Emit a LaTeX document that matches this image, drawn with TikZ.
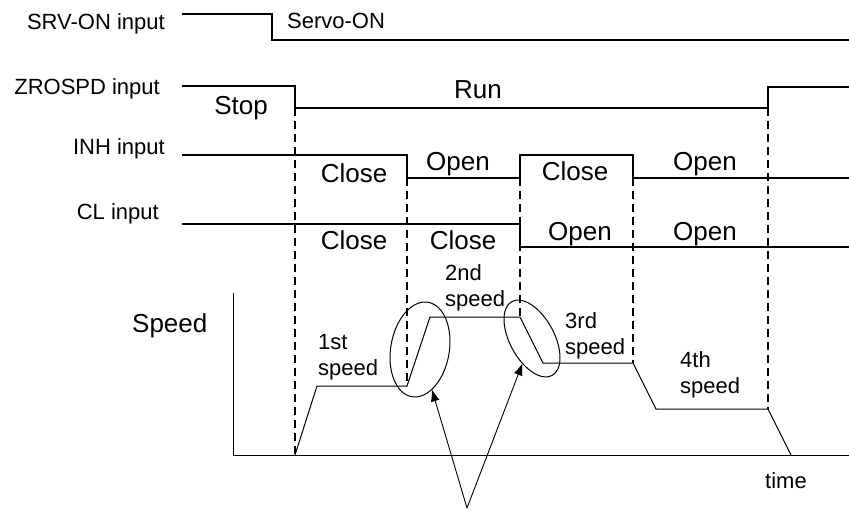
\documentclass[tikz,border=0pt]{standalone}
\usepackage{fontspec}
\setmainfont{Liberation Sans}
\usetikzlibrary{arrows.meta,shapes.geometric}
\begin{document}
\begin{tikzpicture}[x=1pt,y=-1pt,
  sig/.style={line width=2pt, line join=miter},
  guide/.style={line width=1.3pt, dash pattern=on 8pt off 5pt},
  prof/.style={line width=1pt},
  lbl/.style={font=\fontsize{22}{26}\selectfont, inner sep=0pt},
  big/.style={font=\fontsize{26}{30}\selectfont, inner sep=0pt},
  ring/.style={draw, ellipse, line width=1pt, inner sep=0pt, outer sep=0pt},
  pointer/.style={line width=0.9pt, -{Latex[length=12pt,width=9pt]}}]
\useasboundingbox (0,0) rectangle (849,509);
% signal waveforms
\draw[sig] (182,14) -- (272,14) -- (272,40) -- (849,40);
\draw[sig] (182,86) -- (295,86) -- (295,108) -- (768,108) -- (768,87) -- (849,87);
\draw[sig] (182,155) -- (407,155) -- (407,178) -- (520,178) -- (520,155) -- (633,155) -- (633,178) -- (849,178);
\draw[sig] (182,224) -- (520,224) -- (520,247) -- (849,247);
% dashed guides
\draw[guide] (295,108) -- (295,455);
\draw[guide] (407,178) -- (407,386);
\draw[guide] (520,178) -- (520,317);
\draw[guide] (633,178) -- (633,363);
\draw[guide] (768,108) -- (768,409);
% speed axes and profile
\draw[prof] (233,293) -- (233,455) -- (849,455);
\draw[prof] (295,455) -- (317,386) -- (407,386) -- (430,317) -- (520,317) -- (543,363) -- (633,363) -- (656,409) -- (768,409) -- (791,455);
% ellipses and arrows
\node[ring, minimum width=58.6pt, minimum height=95.8pt, rotate=-9.7] (e1) at (420,349.5) {};
\node[ring, minimum width=44.4pt, minimum height=84.2pt, rotate=28.5] (e2) at (532,338.5) {};
\coordinate (apex) at (467,508);
\draw[pointer] (apex) -- (e1);
\draw[pointer] (apex) -- (e2);
% labels
\node[lbl, anchor=base east] (srvl) at (165,29) {SRV-ON input};
\node[lbl, anchor=base west] (servo) at (287,28) {Servo-ON};
\node[lbl, anchor=base east] (zrol) at (160,94) {ZROSPD input};
\node[big, anchor=base] (stop) at (241,114) {Stop};
\node[big, anchor=base] (run) at (478,98) {Run};
\node[lbl, anchor=base east] (inhl) at (165,154) {INH input};
\node[big, anchor=base] (inh1) at (354,182) {Close};
\node[big, anchor=base] (inh2) at (458,170) {Open};
\node[big, anchor=base] (inh3) at (575,180) {Close};
\node[big, anchor=base] (inh4) at (705,170) {Open};
\node[lbl, anchor=base east] (cll) at (159,219) {CL input};
\node[big, anchor=base] (cl1) at (354,249) {Close};
\node[big, anchor=base] (cl2) at (463,249) {Close};
\node[big, anchor=base] (cl3) at (580,240) {Open};
\node[big, anchor=base] (cl4) at (705,240) {Open};
\node[big, anchor=base west] (spd) at (132,332) {Speed};
\node[lbl, anchor=base west, align=left] (s1) at (318,375) {1st\\speed};
\node[lbl, anchor=base west, align=left] (s2) at (445,306) {2nd\\speed};
\node[lbl, anchor=base west, align=left] (s3) at (565,354) {3rd\\speed};
\node[lbl, anchor=base west, align=left] (s4) at (680,393) {4th\\speed};
\node[lbl, anchor=base west] (tm) at (765,488) {time};
\end{tikzpicture}
\end{document}
